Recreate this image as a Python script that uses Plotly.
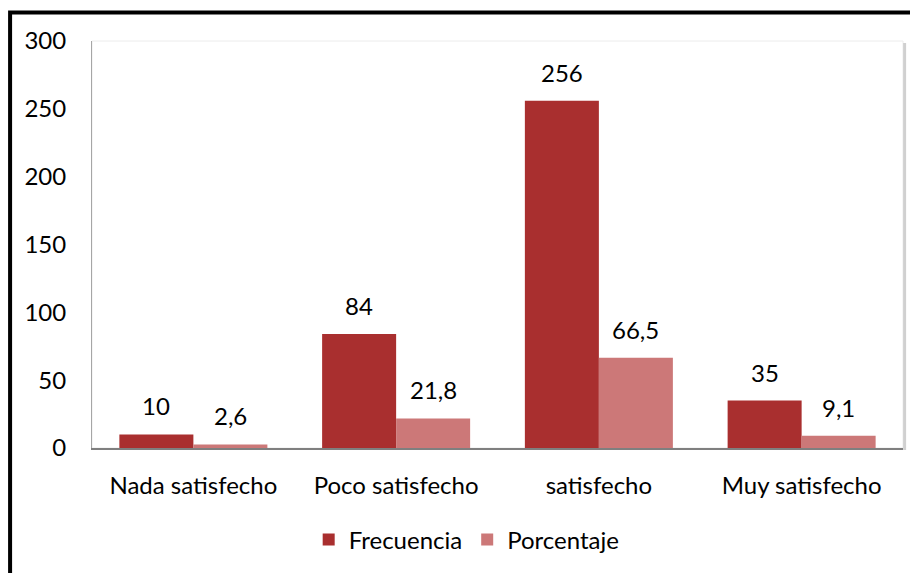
import plotly.graph_objects as go

categories = ["Nada satisfecho", "Poco satisfecho", "satisfecho", "Muy satisfecho"]
frecuencia = [10, 84, 256, 35]
porcentaje = [2.6, 21.8, 66.5, 9.1]
y_ticks = [0, 50, 100, 150, 200, 250, 300]

FONT = "Lato"
TEXT = "#000000"
BARGAP = 0.27


def _fmt(v):
    # comma as decimal separator
    return f"{v:g}".replace(".", ",")


fig = go.Figure()
fig.add_bar(x=categories, y=frecuencia, name="Frecuencia",
            marker=dict(color="#A92F2F", line=dict(width=0)))
fig.add_bar(x=categories, y=porcentaje, name="Porcentaje",
            marker=dict(color="#CC7878", line=dict(width=0)))

# value labels above each bar, placed from the data via the category index
half = (1 - BARGAP) / 4
for i, (f, p) in enumerate(zip(frecuencia, porcentaje)):
    for off, v in ((-half, f), (half, p)):
        fig.add_annotation(x=i + off, y=v, xref="x", yref="y", text=_fmt(v),
                           showarrow=False, yanchor="bottom", yshift=12,
                           font=dict(size=24, color=TEXT))

fig.update_layout(
    width=918, height=573,
    margin=dict(l=84, r=23, t=33, b=133),
    paper_bgcolor="white", plot_bgcolor="white",
    font=dict(family=FONT, size=24, color=TEXT),
    barmode="group", bargap=BARGAP, bargroupgap=0,
    showlegend=True,
    legend=dict(orientation="h", x=0.462, xanchor="center", y=-0.226, yanchor="middle",
                font=dict(size=24), itemwidth=30, tracegroupgap=0),
)
fig.update_yaxes(range=[0, 300], tickvals=y_ticks, showgrid=False, zeroline=False,
                 showline=True, linecolor="#a6a6a6", linewidth=1,
                 ticks="", ticklabelstandoff=20)
fig.update_xaxes(showgrid=False, showline=True, linecolor="#7f7f7f", linewidth=2,
                 ticks="", ticklabelstandoff=15)

# light plot-area frame with soft shadow on the right
fig.add_shape(type="rect", xref="paper", yref="paper", x0=0, x1=1, y0=0, y1=1,
              line=dict(color="#ececec", width=1), layer="below")
fig.add_shape(type="line", xref="paper", yref="paper", x0=1.002, x1=1.002, y0=-0.005, y1=0.995,
              line=dict(color="#d0d0d0", width=3))
# outer black border
fig.add_shape(type="rect", xref="paper", yref="paper", x0=-0.101, x1=1.2, y0=-0.5, y1=1.07,
              line=dict(color="black", width=4))

fig.write_html("out.html")
